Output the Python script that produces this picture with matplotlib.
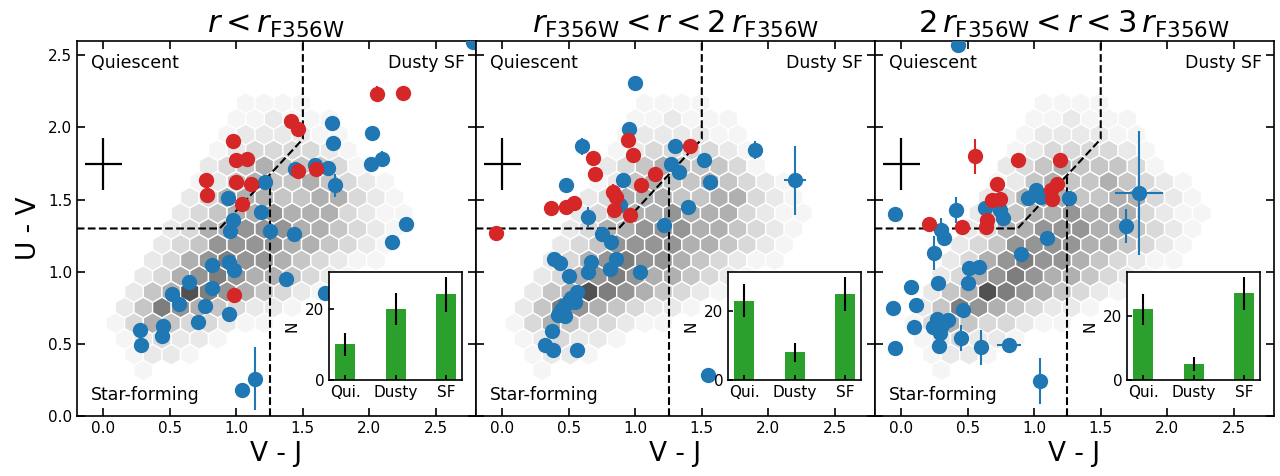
import numpy as np
import matplotlib
matplotlib.use('Agg')
import matplotlib.pyplot as plt

# parent sample, drawn as the same grey hexbin in every panel
# lattice: row k at y = hex_y0 + k*hex_dy, even rows x = -0.05 + 0.14*c, odd rows x = 0.02 + 0.14*c
hex_y0 = 0.861
hex_dy = 0.109
hex_rows = [
    (12, 8, [1, 1, 1, 1]),
    (11, 7, [1, 1, 2, 1, 1, 1]),
    (10, 7, [1, 2, 2, 2, 2, 1, 1]),
    (9, 6, [1, 2, 3, 3, 3, 3, 2, 1]),
    (8, 6, [2, 3, 4, 5, 4, 4, 4, 3, 1]),
    (7, 5, [1, 2, 4, 5, 4, 4, 5, 4, 3, 2, 1]),
    (6, 5, [2, 3, 5, 5, 5, 4, 4, 5, 5, 3, 2, 1]),
    (5, 4, [2, 3, 4, 5, 5, 6, 5, 5, 5, 3, 2, 1, 1]),
    (4, 4, [2, 3, 5, 5, 6, 6, 6, 5, 5, 4, 3, 2, 1]),
    (3, 3, [2, 3, 4, 6, 6, 6, 6, 5, 5, 4, 3, 2, 1]),
    (2, 3, [2, 3, 5, 6, 7, 6, 6, 5, 4, 3, 2, 1, 1]),
    (1, 2, [2, 3, 5, 6, 7, 6, 5, 5, 4, 3, 2, 1]),
    (0, 2, [2, 4, 5, 9, 7, 6, 5, 4, 3, 2, 1]),
    (-1, 1, [2, 4, 7, 6, 5, 4, 3, 2, 2, 1]),
    (-2, 1, [1, 3, 5, 4, 3, 3, 2, 1, 1]),
    (-3, 1, [1, 2, 3, 2, 2, 1]),
    (-4, 2, [1, 2, 2, 1]),
    (-5, 2, [1]),
]

titles = [r'$r < r_{\rm F356W}$',
          r'$r_{\rm F356W} < r < 2\,r_{\rm F356W}$',
          r'$2\,r_{\rm F356W} < r < 3\,r_{\rm F356W}$']

# red galaxies: (V-J, U-V, xerr, yerr)
red_1 = [(1.41, 2.045, 0, 0), (1.46, 1.99, 0, 0), (0.975, 1.905, 0, 0), (0.995, 1.775, 0, 0),
         (1.08, 1.78, 0, 0), (0.775, 1.635, 0, 0), (1.00, 1.625, 0, 0), (1.11, 1.605, 0, 0),
         (0.78, 1.535, 0, 0), (1.045, 1.47, 0, 0), (0.98, 0.84, 0, 0), (1.46, 1.70, 0, 0),
         (1.60, 1.715, 0, 0), (2.06, 2.235, 0, 0.05), (2.25, 2.24, 0, 0)]
red_2 = [(0.945, 1.91, 0, 0), (0.985, 1.81, 0, 0), (1.415, 1.87, 0, 0), (0.685, 1.79, 0, 0),
         (0.70, 1.68, 0, 0), (1.15, 1.68, 0, 0), (1.04, 1.60, 0, 0), (0.83, 1.555, 0, 0.05),
         (0.855, 1.52, 0, 0), (0.365, 1.44, 0, 0), (0.478, 1.45, 0, 0), (0.54, 1.475, 0, 0),
         (0.84, 1.425, 0, 0), (0.958, 1.39, 0, 0), (-0.047, 1.27, 0, 0)]
red_3 = [(0.555, 1.80, 0, 0.12), (0.878, 1.775, 0, 0.05), (1.193, 1.778, 0, 0), (0.723, 1.607, 0, 0),
         (1.173, 1.611, 0, 0), (0.685, 1.50, 0, 0), (0.743, 1.507, 0, 0), (1.123, 1.565, 0, 0),
         (1.135, 1.507, 0, 0), (0.21, 1.33, 0, 0), (0.46, 1.31, 0, 0.05), (0.648, 1.357, 0, 0),
         (0.635, 1.31, 0, 0)]

# blue galaxies
blue_1 = [(1.72, 2.03, 0, 0), (1.73, 1.895, 0, 0), (1.595, 1.74, 0, 0), (1.69, 1.72, 0, 0),
          (1.74, 1.60, 0, 0.08), (1.44, 1.71, 0, 0), (1.215, 1.625, 0, 0), (0.935, 1.51, 0, 0),
          (1.185, 1.415, 0, 0), (0.975, 1.36, 0, 0), (0.955, 1.28, 0, 0), (1.255, 1.28, 0, 0),
          (1.43, 1.26, 0, 0), (0.82, 1.045, 0, 0), (0.945, 1.07, 0, 0), (0.98, 1.01, 0, 0),
          (0.64, 0.93, 0, 0), (0.815, 0.885, 0, 0), (0.515, 0.845, 0, 0), (0.57, 0.775, 0, 0),
          (0.765, 0.765, 0, 0), (0.945, 0.705, 0, 0), (0.715, 0.655, 0, 0), (0.445, 0.625, 0, 0),
          (0.44, 0.555, 0, 0), (0.275, 0.595, 0, 0), (0.283, 0.49, 0, 0), (1.37, 0.95, 0, 0),
          (1.665, 0.855, 0, 0), (1.14, 0.26, 0, 0.22), (1.04, 0.18, 0, 0), (2.02, 1.96, 0, 0),
          (2.01, 1.75, 0, 0), (2.095, 1.785, 0, 0.05), (2.275, 1.33, 0, 0), (2.17, 1.205, 0, 0),
          (2.78, 2.59, 0, 0)]
blue_2 = [(1.0, 2.31, 0, 0.05), (0.95, 1.99, 0, 0), (0.60, 1.87, 0, 0.06), (1.295, 1.87, 0, 0),
          (1.52, 1.775, 0, 0), (1.27, 1.745, 0, 0), (1.33, 1.69, 0, 0), (1.56, 1.625, 0, 0),
          (0.91, 1.635, 0, 0), (0.48, 1.60, 0, 0), (0.885, 1.46, 0, 0), (1.395, 1.45, 0, 0),
          (0.645, 1.38, 0, 0.07), (1.215, 1.325, 0, 0), (0.75, 1.26, 0, 0), (0.82, 1.205, 0, 0),
          (0.39, 1.085, 0, 0.04), (0.435, 1.06, 0, 0), (0.665, 1.07, 0, 0), (0.858, 1.09, 0, 0),
          (0.81, 1.02, 0, 0), (0.645, 0.995, 0, 0), (1.035, 0.995, 0, 0), (0.50, 0.97, 0, 0),
          (0.56, 0.86, 0, 0), (0.52, 0.815, 0, 0), (0.47, 0.77, 0, 0), (0.44, 0.735, 0, 0),
          (0.47, 0.69, 0, 0), (0.55, 0.79, 0, 0), (0.50, 0.80, 0, 0), (0.415, 0.70, 0, 0),
          (0.37, 0.59, 0, 0), (0.32, 0.495, 0, 0), (0.38, 0.455, 0, 0), (0.565, 0.46, 0, 0),
          (1.548, 0.285, 0, 0), (1.90, 1.845, 0, 0.06), (2.20, 1.635, 0.08, 0.24)]
blue_3 = [(-0.045, 1.40, 0, 0), (0.41, 1.427, 0, 0.09), (0.628, 1.443, 0, 0), (0.743, 1.427, 0, 0),
          (0.768, 1.373, 0, 0), (0.955, 1.512, 0, 0), (1.01, 1.565, 0, 0.05), (1.048, 1.519, 0, 0),
          (1.265, 1.512, 0, 0), (0.30, 1.29, 0, 0.08), (0.323, 1.231, 0, 0), (0.248, 1.131, 0, 0.12),
          (1.098, 1.231, 0, 0), (0.898, 1.12, 0, 0), (0.51, 1.027, 0, 0), (0.585, 1.034, 0, 0),
          (0.28, 0.92, 0, 0), (0.505, 0.919, 0, 0), (0.073, 0.891, 0, 0), (0.11, 0.769, 0, 0),
          (-0.06, 0.746, 0, 0), (0.468, 0.734, 0, 0), (0.093, 0.619, 0, 0), (0.265, 0.676, 0, 0),
          (0.353, 0.665, 0, 0), (0.24, 0.619, 0, 0), (0.29, 0.573, 0, 0), (0.31, 0.63, 0, 0),
          (0.448, 0.54, 0, 0.09), (-0.045, 0.469, 0, 0), (0.285, 0.485, 0, 0), (0.603, 0.476, 0, 0.12),
          (0.81, 0.492, 0.09, 0.05), (1.045, 0.245, 0, 0.16), (0.428, 2.57, 0, 0.05),
          (1.79, 1.547, 0.18, 0.43), (1.69, 1.316, 0, 0.12)]

# inset counts: quiescent, dusty, star-forming
bar_labels = ['Qui.', 'Dusty', 'SF']
counts_1 = [10, 20, 24]
counts_2 = [23, 8, 25]
counts_3 = [22, 5, 27]

# typical uncertainty cross
err_x, err_y = 0.0, 1.75
err_dx, err_dy = 0.14, 0.18


def hex_cells():
    xs, ys, cs = [], [], []
    for k, c0, levels in hex_rows:
        start = 0.02 if k % 2 else -0.05
        for i, lev in enumerate(levels):
            xs.append(start + 0.14 * (c0 + i))
            ys.append(hex_y0 + k * hex_dy)
            cs.append(lev)
    return np.array(xs), np.array(ys), np.array(cs)


def draw_points(ax, pts, color):
    p = np.array(pts)
    ax.errorbar(p[:, 0], p[:, 1], xerr=p[:, 2], yerr=p[:, 3], fmt='o', ms=10,
                color=color, ecolor=color, elinewidth=1.5, capsize=0, zorder=4)


def draw_panel(ax, title, red, blue, counts, first):
    hx, hy, hc = hex_cells()
    ax.hexbin(hx, hy, C=hc, reduce_C_function=np.max, gridsize=(18, 9),
              extent=(-0.12, 2.40, 0.316, 2.278), cmap='Greys', vmin=0, vmax=12,
              edgecolors='white', linewidths=1.0, zorder=1)

    # UVJ selection box
    ax.plot([-0.2, 0.875, 1.5, 1.5], [1.3, 1.3, 1.92, 2.6], 'k--', lw=1.5, zorder=2)
    ax.plot([1.25, 1.25], [0.0, 1.675], 'k--', lw=1.5, zorder=2)

    ax.errorbar([err_x], [err_y], xerr=[err_dx], yerr=[err_dy], fmt='none',
                ecolor='black', elinewidth=1.6, capsize=0, zorder=3)

    draw_points(ax, blue, 'tab:blue')
    draw_points(ax, red, 'tab:red')

    ax.text(0.035, 0.94, 'Quiescent', transform=ax.transAxes, fontsize=12.5, va='center')
    ax.text(0.972, 0.94, 'Dusty SF', transform=ax.transAxes, fontsize=12.5, va='center', ha='right')
    ax.text(0.035, 0.055, 'Star-forming', transform=ax.transAxes, fontsize=12.5, va='center')

    ax.set_xlim(-0.2, 2.8)
    ax.set_ylim(0.0, 2.6)
    ax.set_xticks([0.0, 0.5, 1.0, 1.5, 2.0, 2.5])
    ax.set_yticks([0.0, 0.5, 1.0, 1.5, 2.0, 2.5])
    ax.tick_params(direction='in', top=True, right=True, length=6, width=1.2,
                   labelsize=11, labelleft=first)
    for s in ax.spines.values():
        s.set_linewidth(1.2)
    ax.set_xlabel('V - J', fontsize=19)
    if first:
        ax.set_ylabel('U - V', fontsize=19)
    ax.set_title(title, fontsize=22, pad=6)

    # class counts inset
    ins = ax.inset_axes([0.633, 0.096, 0.333, 0.289])
    ins.set_zorder(10)
    ins.bar(range(3), counts, width=0.4, color='tab:green',
            yerr=np.sqrt(counts), error_kw=dict(ecolor='black', elinewidth=1.5, capsize=0))
    ins.set_xticks(range(3))
    ins.set_xticklabels(bar_labels)
    ins.set_yticks([0, 20])
    ins.set_ylabel('N', fontsize=11)
    ins.tick_params(direction='in', labelsize=11, width=1.2)
    for s in ins.spines.values():
        s.set_linewidth(1.2)


fig, axes = plt.subplots(1, 3, figsize=(12.8, 4.76), dpi=100)
fig.subplots_adjust(left=0.06, right=0.995, top=0.914, bottom=0.126, wspace=0)

draw_panel(axes[0], titles[0], red_1, blue_1, counts_1, True)
draw_panel(axes[1], titles[1], red_2, blue_2, counts_2, False)
draw_panel(axes[2], titles[2], red_3, blue_3, counts_3, False)

fig.savefig('out.png', dpi=100)
